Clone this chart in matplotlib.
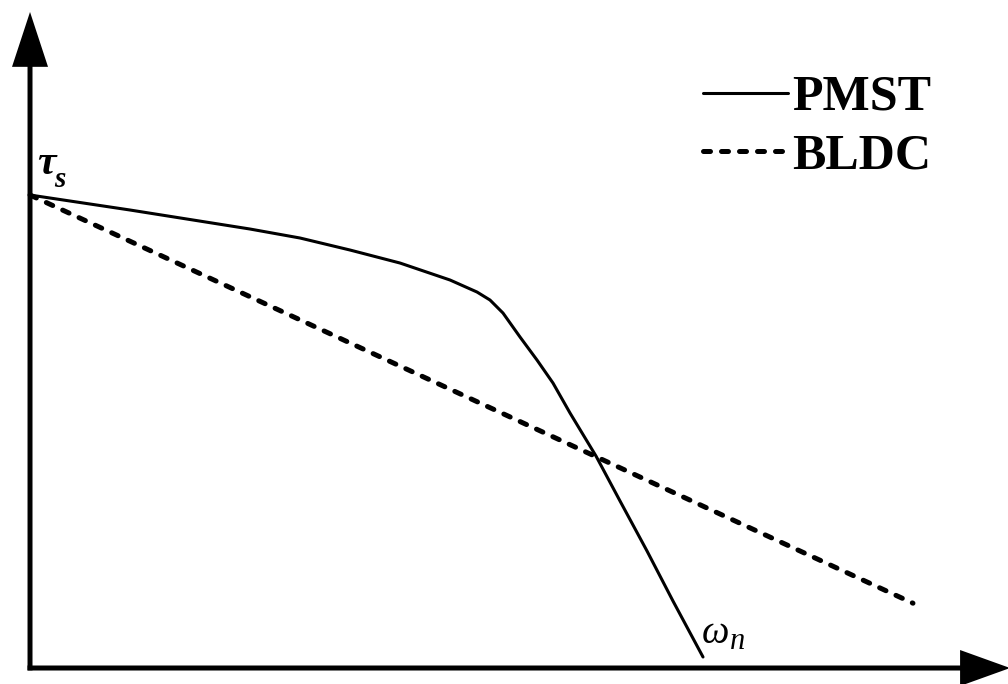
import matplotlib
matplotlib.use("Agg")
import matplotlib.pyplot as plt

# ── data (normalised: speed / omega_n, torque / tau_s) ─────────────────────
pmst_speed = [0.0, 0.1486, 0.3269, 0.4012, 0.4755, 0.5498, 0.6241, 0.6642,
              0.6835, 0.7028, 0.7281, 0.7533, 0.7771, 0.8024, 0.8410,
              0.8767, 0.9168, 0.9554, 1.0]
pmst_torque = [1.0, 0.9683, 0.9281, 0.9091, 0.8837, 0.8562, 0.8203, 0.7949,
               0.7780, 0.7505, 0.6998, 0.6512, 0.6025, 0.5391, 0.4482,
               0.3531, 0.2474, 0.1416, 0.0233]
bldc_speed = [0.0, 1.312]
bldc_torque = [1.0, 0.137]

serif = "Liberation Serif"

fig = plt.figure(figsize=(10.08, 6.84), dpi=100)
ax = fig.add_axes([0, 0, 1, 1])
ax.set_xlim(-0.0446, 1.4532)
ax.set_ylim(-0.0338, 1.4123)
ax.axis("off")

# axes with arrow heads
ax.arrow(0, -0.005, 0, 1.392, width=0.0074, head_width=0.0535,
         head_length=0.116, length_includes_head=True, fc="black", ec="none")
ax.arrow(-0.0037, 0, 1.46, 0, width=0.0106, head_width=0.0761,
         head_length=0.0743, length_includes_head=True, fc="black", ec="none")

# curves
ax.plot(pmst_speed, pmst_torque, color="black", lw=2.2, label="PMST",
        solid_capstyle="round", solid_joinstyle="round")
ax.plot(bldc_speed, bldc_torque, color="black", lw=3.6, label="BLDC",
        dashes=(1.4, 2.2), dash_capstyle="round")

# labels
ax.text(0.011, 1.044, "τ", family=serif, style="italic", weight="bold",
        fontsize=30, va="baseline")
ax.text(0.036, 1.017, "s", family=serif, style="italic", weight="bold",
        fontsize=21, va="baseline")
ax.text(0.9985, 0.053, "ω", family=serif, style="italic", fontsize=28,
        va="baseline")
ax.text(1.040, 0.040, "n", family=serif, style="italic", fontsize=22,
        va="baseline")

ax.legend(loc="upper left", bbox_to_anchor=(703 / 1008, 1 - 75 / 684),
          frameon=False, borderpad=0, borderaxespad=0,
          prop=dict(family=serif, weight="bold", size=36),
          handlelength=1.7, handletextpad=0.08, labelspacing=0.25)

fig.savefig("out.png", dpi=100)
